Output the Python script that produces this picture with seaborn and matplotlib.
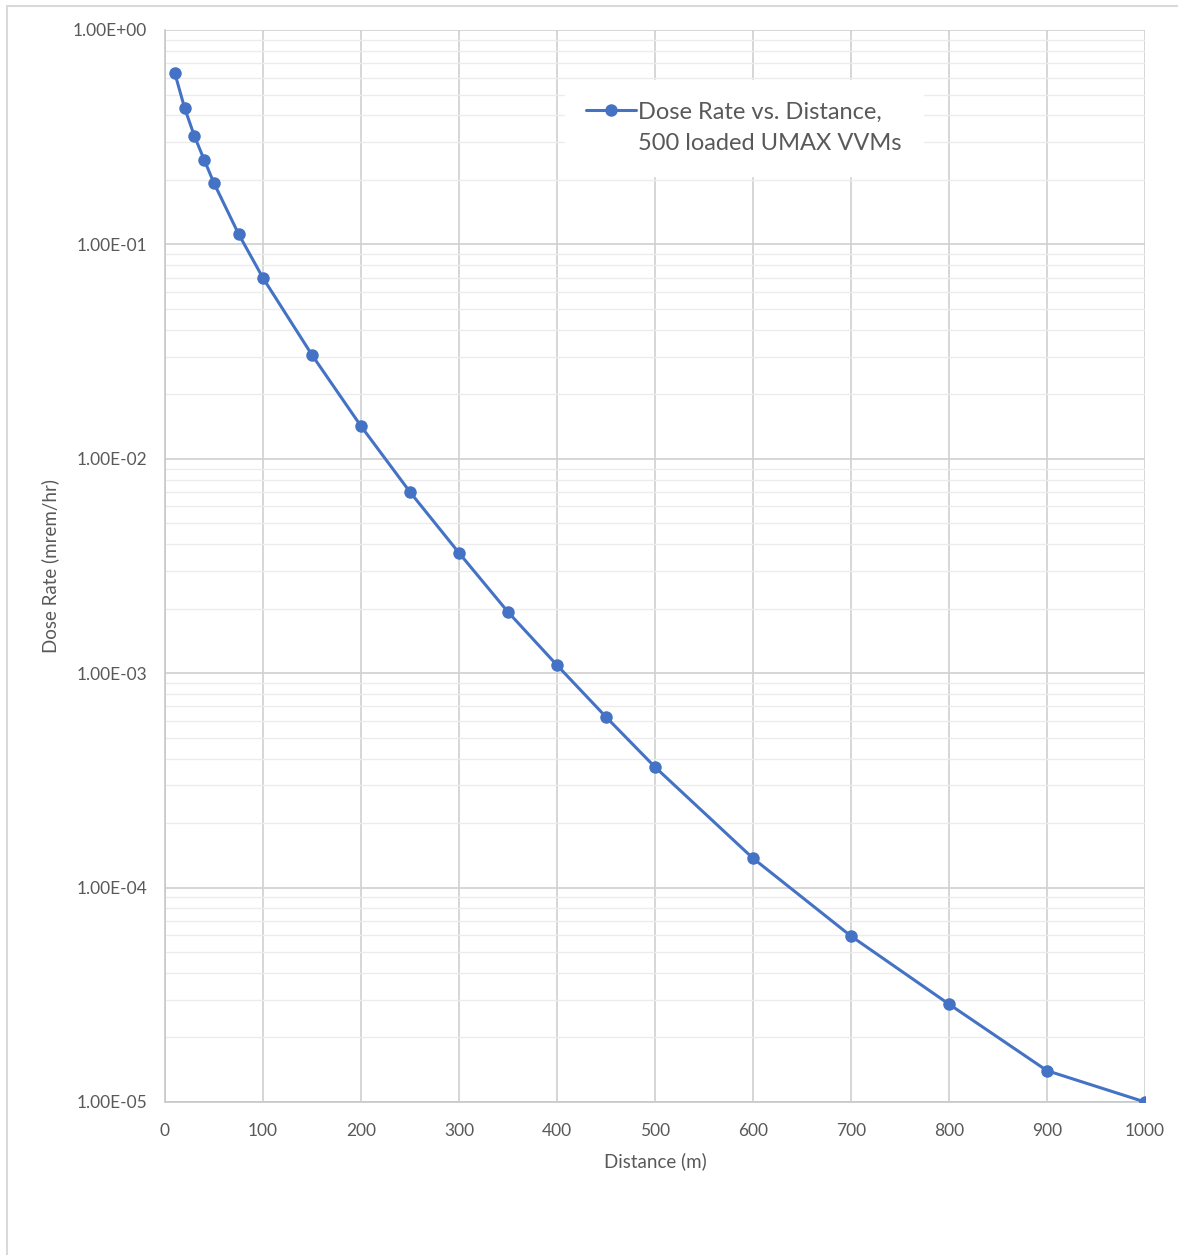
import numpy as np
import pandas as pd
import matplotlib
matplotlib.use('Agg')
import matplotlib.pyplot as plt
import matplotlib.ticker as mticker
from matplotlib.lines import Line2D
import seaborn as sns

# Dose rate readings
distance = [10, 20, 30, 40, 50, 75, 100, 150, 200, 250, 300, 350, 400, 450, 500,
            600, 700, 800, 900, 1000]
dose_rate = [0.63, 0.433, 0.32, 0.248, 0.193, 0.112, 0.0697, 0.0305, 0.0142, 0.0070,
             0.00364, 0.00193, 0.00109, 0.000625, 0.000365, 0.000137, 5.94e-5,
             2.86e-5, 1.40e-5, 1.0e-5]
label_line1 = 'Dose Rate vs. Distance,'
label_line2 = '500 loaded UMAX VVMs'

df = pd.DataFrame({'Distance (m)': distance, 'Dose Rate (mrem/hr)': dose_rate})

sns.set_style('white')
plt.rcParams['font.family'] = ['Lato', 'DejaVu Sans']
text_col = '#595959'
blue = '#4472C4'

fig = plt.figure(figsize=(11.78, 12.55), dpi=100)
ax = fig.add_axes([165 / 1178, 1 - 1102 / 1255, 980 / 1178, 1072 / 1255])

sns.lineplot(data=df, x='Distance (m)', y='Dose Rate (mrem/hr)', ax=ax,
             color=blue, linewidth=2.2, marker='o', markersize=9,
             markeredgewidth=0, zorder=3)

ax.set_yscale('log')
ax.set_xlim(0, 1000)
ax.set_ylim(1e-5, 1)
ax.xaxis.set_major_locator(mticker.MultipleLocator(100))
ax.yaxis.set_major_locator(mticker.LogLocator(base=10, numticks=10))
ax.yaxis.set_minor_locator(mticker.LogLocator(base=10, subs=np.arange(2, 10), numticks=20))
ax.yaxis.set_major_formatter(mticker.FuncFormatter(lambda v, p: f'{v:.2E}'))
ax.yaxis.set_minor_formatter(mticker.NullFormatter())

ax.grid(True, which='major', axis='both', color='#d0d0d0', linewidth=1.2)
ax.grid(True, which='minor', axis='y', color='#ececec', linewidth=1.0)
ax.set_axisbelow(True)

for s in ['top', 'right']:
    ax.spines[s].set_visible(False)
for s in ['left', 'bottom']:
    ax.spines[s].set_color('#c8c8c8')
    ax.spines[s].set_linewidth(1.2)

ax.tick_params(axis='both', which='both', length=0, labelsize=12.5,
               labelcolor=text_col)
ax.tick_params(axis='x', pad=15)
ax.tick_params(axis='y', pad=13)
ax.set_xlabel('Distance (m)', fontsize=13.5, color=text_col, labelpad=10)
ax.set_ylabel('Dose Rate (mrem/hr)', fontsize=13.5, color=text_col, labelpad=10)

# legend: marker handle next to the first line, second line underneath
h1 = Line2D([], [], color=blue, linewidth=2.2, marker='o', markersize=9,
            markeredgewidth=0)
h2 = Line2D([], [], color='none')
leg = ax.legend([h1, h2], [label_line1, label_line2], loc='upper left',
                bbox_to_anchor=(0.408, 0.953), frameon=True, fontsize=17,
                handlelength=2.1, handletextpad=0.1, labelspacing=0.45,
                borderpad=0.9, borderaxespad=0, fancybox=False)
leg.get_frame().set_edgecolor('white')
leg.get_frame().set_facecolor('white')
leg.get_frame().set_alpha(1)
for t in leg.get_texts():
    t.set_color(text_col)

# light outer border of the chart area (top and left only)
fig.add_artist(Line2D([7 / 1178, 1], [1 - 6 / 1255, 1 - 6 / 1255],
                      transform=fig.transFigure, color='#d9d9d9', linewidth=1.5))
fig.add_artist(Line2D([7 / 1178, 7 / 1178], [0, 1 - 6 / 1255],
                      transform=fig.transFigure, color='#d9d9d9', linewidth=1.5))

fig.savefig('out.png', dpi=100)
